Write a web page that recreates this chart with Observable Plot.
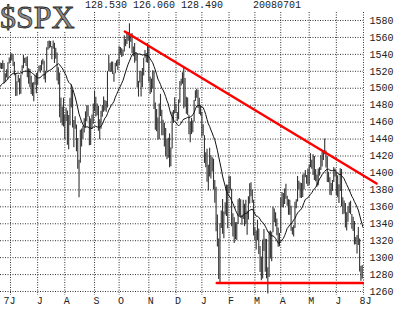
<!DOCTYPE html>
<html>
<head>
<meta charset="utf-8">
<script src="https://cdn.jsdelivr.net/npm/d3@7"></script>
<script src="https://cdn.jsdelivr.net/npm/@observablehq/plot@0.6"></script>
<style>
  html, body { margin: 0; padding: 0; background: #fff; }
  #wrap { position: relative; width: 414px; height: 311px; overflow: hidden; }
  #title { position: absolute; left: 0; top: 1px; width: 78px; height: 30px; background: #fff;
    font: 32px "Liberation Serif", serif; line-height: 32px; color: #8c8c8c;
    -webkit-text-stroke: 0.8px #2a2a2a; white-space: nowrap; }
  #stats { position: absolute; left: 85px; top: 1px; font: 10px "Liberation Mono", monospace;
    line-height: 10px; color: #222; white-space: pre; }
</style>
</head>
<body>
<div id="wrap"></div>
<script>
// ---- header ----
const symbol = "$SPX";
const headerStats = ["128.530", "126.060", "128.490"];
const headerDate = "20080701";

// ---- axis labels ----
const yTicks = [1260, 1280, 1300, 1320, 1340, 1360, 1380, 1400, 1420, 1440, 1460, 1480, 1500, 1520, 1540, 1560, 1580];
const monthLabels = ["J", "J", "A", "S", "O", "N", "D", "J", "F", "M", "A", "M", "J", "8J"];
const firstYearLabel = "7";

// ---- closes before the visible window (20-day average warm-up) ----
const warmupCloses = [1480.9, 1480.4, 1495.4, 1494.3, 1494.1, 1482.4, 1486.3, 1495.9, 1502.4, 1505.6,
  1509.5, 1507.7, 1512.6, 1491.5, 1505.9, 1503.2, 1501.2, 1514.1, 1512.8, 1522.8];

// ---- daily [high, low, close] by month ----
const may07 = [[1529.9,1522.7,1525.1],[1529.2,1522.1,1524.1],[1532.4,1522.3,1522.3],[1529.3,1505.2,1507.5],
  [1517.1,1507.5,1515.7],[1521.8,1512.0,1518.1],[1530.2,1510.1,1530.2],[1535.6,1528.5,1530.6]];
const jun07 = [[1540.5,1530.6,1536.3],[1540.6,1532.3,1539.2],[1539.2,1525.6,1531.0],[1530.6,1514.8,1517.4],
  [1517.4,1490.4,1490.7],[1507.8,1490.7,1507.7],[1515.5,1506.5,1509.1],[1511.3,1492.0,1493.0],
  [1515.7,1493.0,1515.7],[1526.5,1515.7,1523.0],[1538.7,1523.0,1532.9],[1535.4,1529.3,1531.1],
  [1535.9,1525.7,1533.7],[1537.3,1512.4,1512.8],[1522.9,1504.8,1522.2],[1522.2,1500.7,1502.6],
  [1514.3,1492.7,1497.7],[1506.1,1490.5,1492.9],[1506.8,1484.2,1506.3],[1514.8,1503.4,1505.7],
  [1517.5,1493.6,1503.4]];
const jul07 = [[1519.5,1503.4,1519.4],[1526.0,1519.4,1524.9],[1526.8,1517.7,1525.4],[1532.4,1520.5,1530.4],
  [1534.3,1527.5,1531.9],[1531.9,1510.0,1510.1],[1519.9,1506.1,1518.8],[1547.9,1518.8,1547.7],
  [1555.1,1544.9,1552.5],[1555.9,1546.7,1549.5],[1555.3,1547.7,1549.4],[1549.4,1533.7,1546.2],
  [1555.9,1546.2,1553.1],[1553.1,1529.2,1534.1],[1547.2,1534.1,1541.6],[1541.6,1508.6,1511.0],
  [1524.3,1503.7,1518.1],[1518.1,1465.3,1482.7],[1488.5,1458.9,1459.0],[1477.9,1455.6,1473.9],
  [1488.3,1454.3,1455.3]];
const aug07 = [[1468.4,1439.6,1465.8],[1476.4,1460.6,1472.2],[1473.2,1432.8,1433.1],[1467.7,1427.4,1467.7],
  [1488.3,1455.8,1476.7],[1503.9,1476.7,1497.5],[1497.5,1453.1,1453.1],[1462.0,1429.7,1453.6],
  [1466.3,1451.5,1452.9],[1456.7,1424.9,1426.5],[1440.8,1404.4,1406.7],[1415.0,1370.6,1411.3],
  [1450.3,1411.3,1445.9],[1451.8,1430.5,1445.6],[1455.0,1439.8,1447.1],[1464.1,1447.1,1464.1],
  [1472.1,1453.3,1462.5],[1479.4,1460.3,1479.4],[1479.4,1466.1,1466.8],[1466.3,1432.0,1432.4],
  [1463.8,1432.4,1463.8],[1468.4,1451.3,1457.6],[1481.5,1457.6,1474.0]];
const sep07 = [[1496.4,1472.2,1489.4],[1489.4,1466.1,1472.3],[1481.5,1467.4,1478.6],[1478.6,1449.1,1453.6],
  [1462.8,1439.3,1451.7],[1472.7,1451.7,1471.5],[1479.5,1465.8,1471.6],[1489.6,1471.6,1484.0],
  [1485.4,1473.2,1484.3],[1484.3,1471.8,1476.7],[1519.8,1476.7,1519.8],[1538.7,1519.8,1529.0],
  [1529.1,1518.5,1518.8],[1530.9,1518.8,1525.8],[1530.9,1516.1,1517.7],[1518.0,1507.1,1517.2],
  [1529.4,1517.2,1525.4],[1532.4,1525.4,1531.4],[1533.7,1521.0,1526.8]];
const oct07 = [[1549.0,1526.8,1547.0],[1548.0,1540.2,1546.6],[1546.6,1536.3,1539.6],[1544.8,1537.6,1542.8],
  [1561.9,1542.8,1557.6],[1557.6,1549.0,1552.6],[1565.3,1551.8,1565.2],[1565.4,1555.5,1562.5],
  [1576.1,1546.7,1554.4],[1563.0,1554.4,1561.8],[1564.7,1540.8,1548.7],[1548.7,1537.2,1538.5],
  [1552.8,1529.4,1541.2],[1541.2,1531.8,1540.1],[1540.1,1500.3,1500.6],[1508.1,1489.6,1506.3],
  [1520.0,1506.3,1519.6],[1519.6,1489.6,1515.9],[1523.2,1500.5,1514.4],[1535.3,1514.4,1535.3],
  [1544.7,1535.3,1541.0],[1541.0,1530.0,1531.0],[1552.8,1529.4,1549.4]];
const nov07 = [[1549.4,1507.3,1508.4],[1513.2,1492.5,1509.7],[1510.8,1494.8,1502.2],[1520.8,1499.1,1520.3],
  [1520.3,1475.0,1475.6],[1482.5,1450.3,1474.8],[1474.8,1448.5,1453.7],[1464.9,1438.5,1439.2],
  [1481.4,1439.2,1481.1],[1492.8,1466.5,1470.6],[1473.9,1443.9,1451.2],[1462.2,1443.9,1458.7],
  [1458.7,1430.5,1433.3],[1452.6,1419.3,1439.7],[1439.7,1415.6,1416.8],[1440.9,1417.4,1440.7],
  [1446.1,1406.1,1407.2],[1429.5,1407.2,1428.2],[1471.6,1428.2,1469.0],[1473.8,1458.4,1469.7],
  [1488.9,1469.7,1481.1]];
const dec07 = [[1481.2,1470.1,1472.4],[1471.3,1460.7,1462.8],[1486.1,1462.8,1485.0],[1508.0,1482.2,1507.3],
  [1510.6,1502.7,1504.7],[1518.3,1504.7,1516.0],[1523.6,1475.4,1477.7],[1511.4,1477.7,1486.6],
  [1489.4,1469.2,1488.4],[1488.4,1467.8,1468.0],[1468.0,1445.2,1445.9],[1460.2,1435.7,1455.0],
  [1464.4,1445.3,1453.0],[1461.2,1447.5,1460.1],[1485.4,1460.1,1484.5],[1497.0,1484.5,1496.5],
  [1498.9,1488.2,1497.7],[1497.7,1476.1,1476.3],[1488.3,1469.0,1478.5],[1478.5,1467.3,1468.4]];
const jan08 = [[1471.8,1442.1,1447.2],[1456.8,1443.7,1447.2],[1444.0,1411.2,1411.6],[1423.9,1406.0,1416.2],
  [1428.0,1389.0,1390.2],[1409.2,1378.7,1409.1],[1429.1,1395.3,1420.3],[1420.3,1392.7,1401.0],
  [1417.9,1401.0,1416.3],[1416.3,1380.0,1381.0],[1391.0,1364.3,1373.2],[1383.1,1330.7,1333.3],
  [1350.3,1312.5,1325.2],[1322.1,1274.3,1310.5],[1339.9,1270.1,1338.6],[1355.2,1334.3,1352.1],
  [1368.6,1327.5,1330.6],[1354.0,1322.3,1354.0],[1364.9,1350.3,1362.3],[1385.9,1348.6,1355.8],
  [1385.6,1334.1,1378.6]];
const feb08 = [[1396.0,1375.4,1395.4],[1395.4,1379.7,1380.8],[1380.8,1336.6,1336.6],[1351.9,1324.3,1326.5],
  [1347.2,1316.8,1336.9],[1341.2,1321.1,1331.3],[1341.4,1320.3,1339.1],[1368.3,1339.1,1348.9],
  [1369.8,1348.9,1367.2],[1368.2,1347.3,1348.9],[1350.0,1338.1,1350.0],[1367.9,1345.0,1348.8],
  [1363.0,1336.6,1360.0],[1367.9,1339.3,1342.5],[1354.8,1326.4,1353.1],[1372.0,1344.5,1371.8],
  [1387.3,1363.3,1381.3],[1388.3,1372.0,1380.0],[1380.0,1364.3,1367.7],[1367.7,1325.4,1330.6]];
const mar08 = [[1335.1,1320.0,1331.3],[1331.3,1309.0,1326.8],[1344.2,1320.2,1333.7],[1333.7,1303.7,1304.3],
  [1313.2,1282.4,1293.4],[1300.8,1272.7,1273.4],[1320.7,1274.9,1320.7],[1333.3,1307.2,1308.8],
  [1321.7,1282.8,1315.5],[1321.5,1274.9,1288.1],[1288.1,1257.0,1276.6],[1330.7,1276.6,1330.7],
  [1331.3,1298.4,1298.4],[1330.0,1295.2,1329.5],[1359.7,1329.5,1349.9],[1357.5,1341.2,1353.0],
  [1352.9,1336.4,1341.1],[1345.6,1325.7,1325.8],[1334.9,1312.2,1315.2],[1328.6,1312.8,1322.7]];
const apr08 = [[1370.2,1328.5,1370.2],[1377.0,1359.2,1367.5],[1375.7,1358.7,1369.3],[1380.9,1362.8,1370.4],
  [1386.7,1369.0,1372.5],[1372.5,1360.6,1365.5],[1368.4,1350.0,1354.5],[1367.8,1350.1,1360.6],
  [1360.6,1331.2,1332.8],[1335.6,1326.7,1328.3],[1337.7,1324.4,1334.4],[1365.5,1334.4,1364.7],
  [1368.4,1357.8,1365.6],[1395.9,1365.6,1390.3],[1390.3,1379.8,1388.2],[1388.2,1370.2,1375.9],
  [1387.4,1369.8,1379.9],[1397.7,1371.1,1388.8],[1399.1,1380.0,1397.8],[1402.9,1394.4,1396.4],
  [1397.1,1386.7,1390.9],[1404.6,1384.0,1385.6]];
const may08 = [[1409.3,1385.6,1409.3],[1422.7,1406.2,1413.9],[1415.0,1404.4,1407.5],[1421.6,1397.1,1418.3],
  [1419.3,1391.2,1392.6],[1404.1,1389.7,1397.7],[1397.7,1383.1,1388.3],[1404.8,1385.0,1403.6],
  [1406.3,1396.3,1403.0],[1420.2,1403.0,1408.7],[1424.4,1406.9,1423.6],[1425.8,1414.7,1425.4],
  [1440.2,1421.6,1426.6],[1425.8,1405.7,1413.4],[1419.2,1388.8,1390.7],[1400.7,1388.3,1394.4],
  [1394.4,1373.6,1375.9],[1387.4,1373.1,1385.4],[1391.2,1378.2,1390.8],[1406.3,1388.6,1398.3],
  [1404.7,1395.3,1400.4]];
const jun08 = [[1400.4,1373.1,1385.7],[1396.7,1370.7,1377.7],[1386.0,1364.0,1377.2],[1405.0,1378.0,1404.1],
  [1404.1,1359.9,1360.7],[1370.6,1350.7,1361.8],[1366.8,1351.5,1358.4],[1364.0,1335.1,1335.5],
  [1353.0,1331.3,1339.9],[1360.0,1341.7,1360.0],[1364.9,1352.1,1360.1],[1366.6,1350.5,1350.9],
  [1350.9,1333.4,1337.8],[1347.6,1330.9,1342.8],[1342.8,1314.8,1317.9],[1323.8,1315.3,1318.0],
  [1326.0,1304.4,1314.3],[1335.6,1314.3,1322.0],[1322.0,1283.1,1283.2],[1289.5,1272.0,1278.4],
  [1290.7,1274.9,1280.0]];
const jul08 = [[1285.3,1260.7,1284.9]];

// ---- hand-drawn annotation lines: [trading-day index from 1 Jun 2007, value] ----
const resistanceLine = [[88.4, 1567], [283.1, 1387.5]];
const supportLine = [[159.5, 1270], [272.5, 1270]];

// ---- build rows ----
const monthArrays = [may07, jun07, jul07, aug07, sep07, oct07, nov07, dec07, jan08, feb08, mar08, apr08, may08, jun08, jul08];
const firstIndex = -may07.length;
const bars = [];
const monthStarts = [];
let idx = firstIndex;
monthArrays.forEach((m, mi) => {
  if (mi > 0) monthStarts.push({i: idx, label: monthLabels[mi - 1]});
  m.forEach(([h, l, c]) => { bars.push({i: idx, h, l, c}); idx++; });
});
const lastIndex = idx - 1;
const maRows = warmupCloses.map((c, j) => ({i: firstIndex - warmupCloses.length + j, c}))
  .concat(bars.map(d => ({i: d.i, c: d.c})));

const plotRight = 363, leftPad = 10;
const pxPerDay = (plotRight - leftPad) / (lastIndex - monthStarts[0].i);
const xMin = monthStarts[0].i - leftPad / pxPerDay;

const grid = {stroke: "#333", strokeDasharray: "1,1.5", strokeWidth: 1};

const chart = Plot.plot({
  width: 414, height: 311,
  marginLeft: 0, marginRight: 414 - plotRight, marginTop: 12, marginBottom: 16,
  x: {type: "linear", domain: [xMin, lastIndex], axis: null},
  y: {domain: [1255.28, 1589.45], axis: null},
  style: {fontFamily: "Liberation Mono, monospace", fontSize: "10px", background: "white", color: "#222", overflow: "visible"},
  marks: [
    Plot.ruleY(yTicks, grid),
    Plot.ruleX(monthStarts, {x: "i", ...grid}),
    Plot.ruleX(bars, {x: "i", y1: "l", y2: "h", stroke: "#333", strokeWidth: 1.1, clip: true}),
    Plot.lineY(maRows, Plot.windowY({k: 20, anchor: "end", reduce: "mean"}, {x: "i", y: "c", stroke: "#111", strokeWidth: 1, clip: true})),
    Plot.line(resistanceLine, {x: d => d[0], y: d => d[1], stroke: "#ff0000", strokeWidth: 2.5}),
    Plot.line(supportLine, {x: d => d[0], y: d => d[1], stroke: "#ff0000", strokeWidth: 2.5}),
    Plot.text(yTicks, {y: d => d, text: d => String(d), frameAnchor: "right", textAnchor: "start", dx: 6, fill: "#222"}),
    Plot.text(monthStarts, {x: "i", text: "label", frameAnchor: "bottom", dy: 8, dx: 2, fill: "#222"}),
    Plot.text([firstYearLabel], {text: d => d, frameAnchor: "bottom-left", dx: 3, dy: 8, fill: "#222"})
  ]
});

const wrap = document.getElementById("wrap");
wrap.appendChild(chart);
const t = document.createElement("div");
t.id = "title"; t.textContent = symbol;
wrap.appendChild(t);
const s = document.createElement("div");
s.id = "stats"; s.textContent = headerStats.join(" ") + "     " + headerDate;
wrap.appendChild(s);
</script>
</body>
</html>
